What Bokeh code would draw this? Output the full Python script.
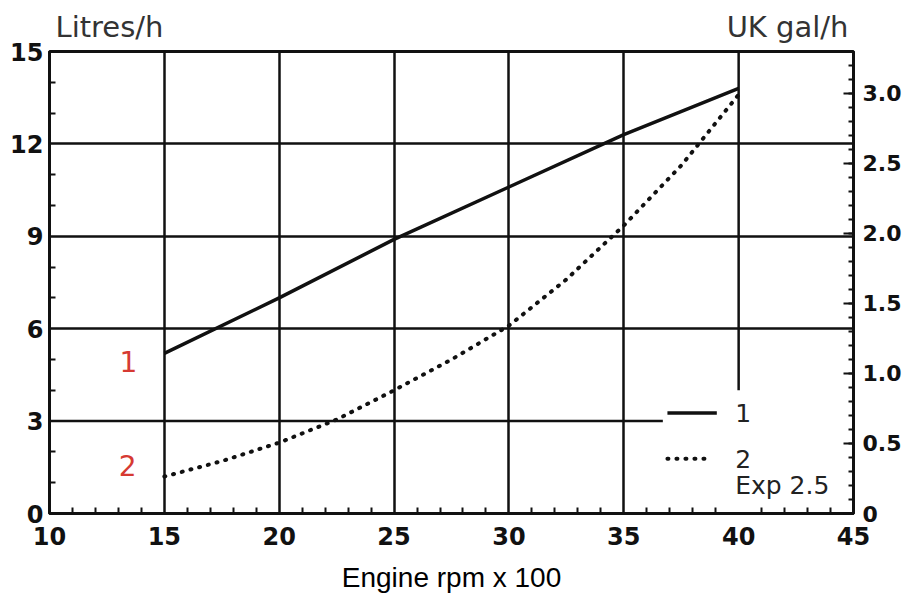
from bokeh.plotting import figure
from bokeh.models import Range1d, LinearAxis, FixedTicker, Label
from bokeh.embed import file_html
from bokeh.resources import INLINE

# ---- data ----
rpm_1 = [15, 20, 25, 30, 35, 40]
fuel_1 = [5.2, 7.0, 8.9, 10.6, 12.3, 13.8]          # curve 1, litres/h
rpm_2 = [15, 17.5, 20, 22.5, 25, 27.5, 30, 32.5, 35, 37.5, 40]
fuel_2 = [1.2, 1.7, 2.3, 3.05, 4.0, 5.0, 6.1, 7.6, 9.35, 11.3, 13.6]  # curve 2 (Exp 2.5)

x_ticks = [10, 15, 20, 25, 30, 35, 40, 45]
y_ticks = [0, 3, 6, 9, 12, 15]
gal_ticks = [0, 0.5, 1.0, 1.5, 2.0, 2.5, 3.0]
gal_labels = ["0", "0.5", "1.0", "1.5", "2.0", "2.5", "3.0"]
unit_titles = ["Litres/h", "UK gal/h"]
LITRES_PER_UK_GAL = 4.54609

# ---- layout constants ----
X_MIN, X_MAX = 10, 45
Y_MIN, Y_MAX = 0, 15
UNIT_TITLE_X = [12.61, 42.13]
LEG_X0, LEG_X1_SOLID, LEG_X1_DOT, LEG_TX = 36.9, 39.05, 38.8, 39.85
LEG_Y1, LEG_Y2, LEG_Y3 = 3.26, 1.78, 0.9
GRID3_END = 36.7      # horizontal line at 3 stops before the legend
GRID40_START = 4.0    # vertical line at 40 starts above the legend

INK = "#111111"
FONT = "DejaVu Sans"

p = figure(width=907, height=599, output_backend="svg", toolbar_location=None,
           x_range=Range1d(X_MIN, X_MAX), y_range=Range1d(Y_MIN, Y_MAX),
           min_border_left=49, min_border_right=54, min_border_top=51,
           min_border_bottom=86, background_fill_color="white",
           border_fill_color="white")
p.outline_line_color = INK
p.outline_line_width = 3

p.extra_y_ranges = {"gal": Range1d(0, Y_MAX / LITRES_PER_UK_GAL)}

# grid
p.xgrid.ticker = FixedTicker(ticks=[15, 20, 25, 30, 35])
p.ygrid.ticker = FixedTicker(ticks=[6, 9, 12])
for g in (p.xgrid, p.ygrid):
    g.grid_line_color = INK
    g.grid_line_width = 2.5
p.segment(x0=[X_MIN], y0=[3], x1=[GRID3_END], y1=[3], line_color=INK, line_width=2.5)
p.segment(x0=[40], y0=[GRID40_START], x1=[40], y1=[Y_MAX], line_color=INK, line_width=2.5)

# axes
xa = p.xaxis[0]
xa.ticker = FixedTicker(ticks=x_ticks, minor_ticks=[v for v in range(10, 46) if v % 5])
ya = p.yaxis[0]
ya.ticker = FixedTicker(ticks=y_ticks, minor_ticks=[v for v in range(0, 16) if v % 3])

ra = LinearAxis(y_range_name="gal")
ra.ticker = FixedTicker(ticks=gal_ticks,
                        minor_ticks=[round(i * 0.1, 1) for i in range(0, 33)])
ra.major_label_overrides = {t: l for t, l in zip(gal_ticks, gal_labels)}
p.add_layout(ra, "right")

for ax in (xa, ya, ra):
    ax.axis_line_color = INK
    ax.axis_line_width = 3
    ax.major_tick_line_color = INK
    ax.minor_tick_line_color = INK
    ax.major_tick_line_width = 2
    ax.minor_tick_line_width = 2
    ax.major_tick_out = 0
    ax.minor_tick_out = 0
    ax.major_label_text_font = FONT
    ax.major_label_text_font_style = "bold"
    ax.major_label_text_color = INK
    ax.major_label_text_font_size = "24px"

xa.major_tick_in = 0
xa.minor_tick_in = 6
xa.major_label_standoff = 13
xa.axis_label = "Engine rpm x 100"
xa.axis_label_text_font = "Liberation Sans"
xa.axis_label_text_font_style = "normal"
xa.axis_label_text_font_size = "28px"
xa.axis_label_text_color = "black"
xa.axis_label_standoff = 14

ya.major_tick_in = 0
ya.minor_tick_in = 6
ya.major_label_standoff = 6

ra.major_tick_in = 10
ra.minor_tick_in = 5
ra.major_label_standoff = 9
ra.major_label_text_font_size = "22px"

# unit titles above the frame, as a label-only axis
ta = LinearAxis(ticker=FixedTicker(ticks=UNIT_TITLE_X, minor_ticks=[]))
ta.major_label_overrides = {x: t for x, t in zip(UNIT_TITLE_X, unit_titles)}
ta.axis_line_color = None
ta.major_tick_line_color = None
ta.minor_tick_line_color = None
ta.major_label_standoff = 2
ta.major_label_text_font = FONT
ta.major_label_text_font_size = "29px"
ta.major_label_text_color = "#333333"
p.add_layout(ta, "above")

# data curves
p.line(rpm_1, fuel_1, line_color=INK, line_width=3.5)
p.line(rpm_2, fuel_2, line_color=INK, line_width=4, line_dash="1 8", line_cap="round")

# legend (drawn in the plot, as in the reference)
p.line([LEG_X0, LEG_X1_SOLID], [LEG_Y1, LEG_Y1], line_color=INK, line_width=3.5)
p.line([LEG_X0, LEG_X1_DOT], [LEG_Y2, LEG_Y2], line_color=INK, line_width=4,
       line_dash="1 8", line_cap="round")
for txt, yy in (("1", LEG_Y1), ("2", LEG_Y2), ("Exp 2.5", LEG_Y3)):
    p.add_layout(Label(x=LEG_TX, y=yy, text=txt, text_font=FONT, text_font_size="25px",
                       text_color="#222222", text_baseline="middle", text_align="left"))

# red curve labels
RED = "#d63a32"
p.add_layout(Label(x=13.44, y=4.93, text="1", text_font=FONT, text_font_size="28px",
                   text_color=RED, text_align="center", text_baseline="middle"))
p.add_layout(Label(x=13.4, y=1.55, text="2", text_font=FONT, text_font_size="28px",
                   text_color=RED, text_align="center", text_baseline="middle"))

open("out.html", "w").write(file_html(p, INLINE))
